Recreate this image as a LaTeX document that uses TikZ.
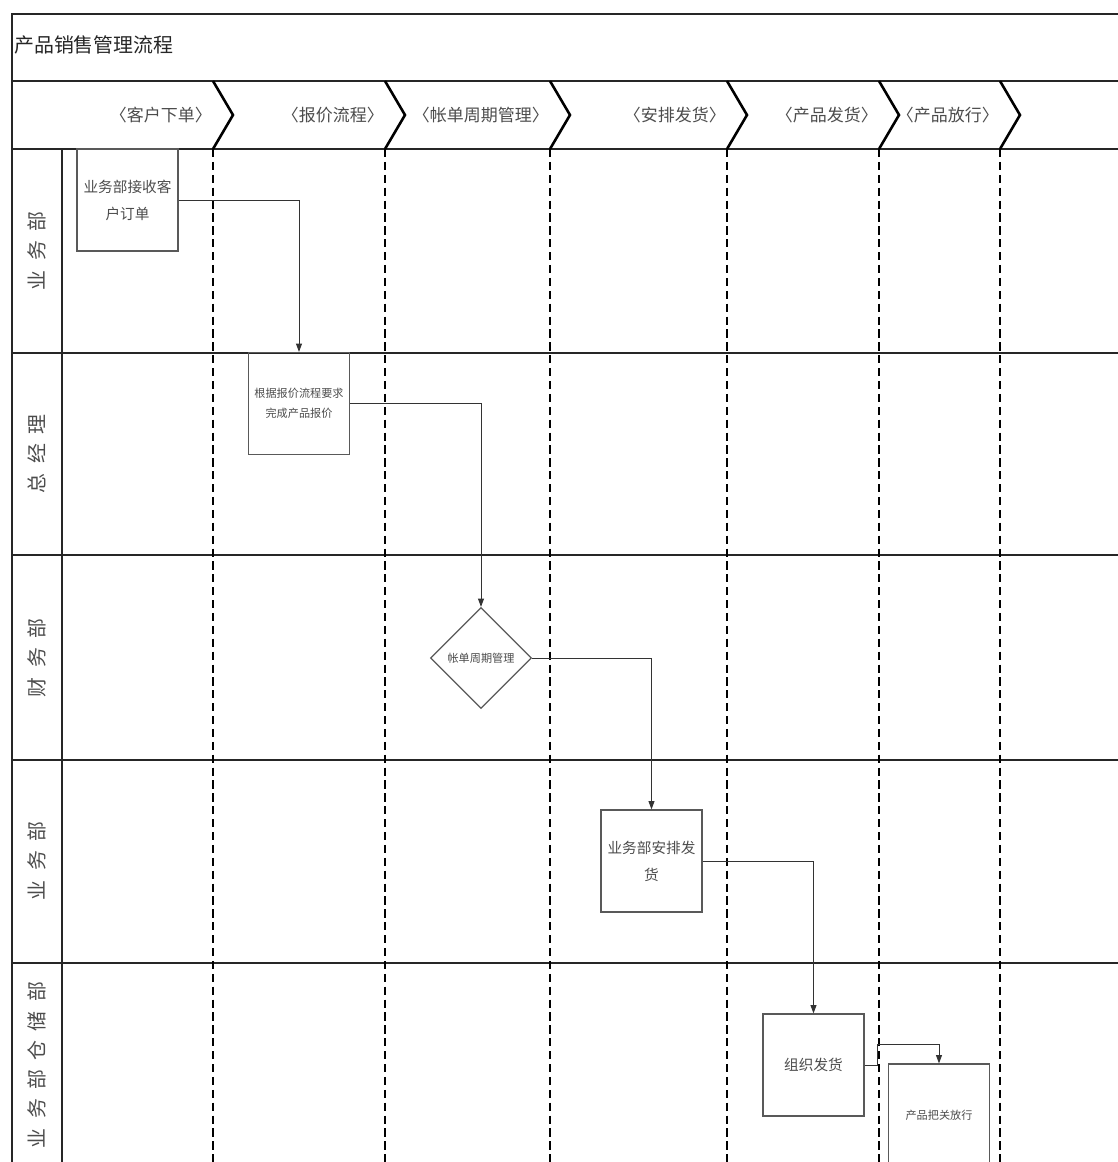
\documentclass[tikz,border=0pt]{standalone}
\usepackage{fontspec}
\newfontfamily\cjk{Noto Sans CJK SC}
\usetikzlibrary{arrows.meta,shapes.geometric}

\begin{document}
\begin{tikzpicture}[x=0.03cm, y=-0.03cm,
    frame/.style={line width=1.2pt, black!85},
    chevron/.style={line width=2.2pt, black, line join=miter},
    phaseline/.style={line width=2.2pt, black, dash pattern=on 7pt off 4pt},
    task/.style={draw=black!65, line width=1pt, minimum width=3.03cm, minimum height=3.06cm, align=center, inner sep=2pt, text=black!70},
    decision/.style={draw=black!65, line width=1pt, diamond, aspect=1, minimum width=3.03cm, minimum height=3.03cm, inner sep=0pt, text=black!70},
    flow/.style={draw=black!80, line width=0.8pt, -{Triangle[length=7pt,width=5pt]}},
    phase/.style={anchor=east, inner sep=0pt, text=black!70, font=\cjk\fontsize{14.5pt}{16pt}\selectfont},
    lane/.style={rotate=90, inner sep=0pt, text=black!70, font=\cjk\fontsize{17pt}{19pt}\selectfont},
    big/.style={font=\cjk\fontsize{12.5pt}{23pt}\selectfont},
    small/.style={font=\cjk\fontsize{9.5pt}{17pt}\selectfont}]
    \useasboundingbox (0,0) rectangle (1118,1162);
    \clip (0,0) rectangle (1118,1162);

    % Frame, title row and phase row
    \draw[frame] (12,1180) -- (12,14) -- (1140,14);
    \draw[frame] (12,81) -- (1140,81);
    \draw[frame] (12,149) -- (1140,149);
    \draw[frame] (62,149) -- (62,1180);
    \foreach \y in {353,555,760,963}
      \draw[frame] (12,\y) -- (1140,\y);
    \node[anchor=west, inner sep=0pt, text=black!85, font=\cjk\fontsize{17pt}{19pt}\selectfont] (title) at (14,45) {产品销售管理流程};

    % Phases: chevron, label, dashed separator
    \foreach \x/\name in {213/客户下单, 385/报价流程, 550/帐单周期管理, 727/安排发货, 879/产品发货, 1000/产品放行} {
      \draw[chevron] (\x,81) -- (\x+20,115) -- (\x,149);
      \draw[phaseline] (\x,149) -- (\x,1180);
      \node[phase] (p\x) at (\x-1,115) {〈\name〉};
    }

    % Lane labels
    \node[lane] (lane1) at (37,251) {业\hspace{8pt}务\hspace{8pt}部};
    \node[lane] (lane2) at (37,454) {总\hspace{8pt}经\hspace{8pt}理};
    \node[lane] (lane3) at (37,658) {财\hspace{8pt}务\hspace{8pt}部};
    \node[lane] (lane4) at (37,861) {业\hspace{8pt}务\hspace{8pt}部};
    \node[lane] (lane5) at (37,1065) {业\hspace{8pt}务\hspace{8pt}部\hspace{8pt}仓\hspace{8pt}储\hspace{8pt}部};

    % Steps
    \node[task, big] (order) at (127.5,200) {业务部接收客\\户订单};
    \node[task, small] (quote) at (299,403.5) {根据报价流程要求\\完成产品报价};
    \node[decision, small] (billing) at (481,658) {帐单周期管理};
    \node[task, big] (arrange) at (651.5,861) {业务部安排发\\货};
    \node[task, big] (ship) at (813.5,1065) {组织发货};
    \node[task, small] (release) at (939,1115) {产品把关放行};

    % Connectors
    \draw[flow] (order.east) -| (quote.north);
    \draw[flow] (quote.east) -| (billing.north);
    \draw[flow] (billing.east) -| (arrange.north);
    \draw[flow] (arrange.east) -| (ship.north);
    \coordinate (jog) at (877,1044);
    \draw[flow] (ship.east) -| (jog) -| (release.north);
  \end{tikzpicture}
\end{document}
